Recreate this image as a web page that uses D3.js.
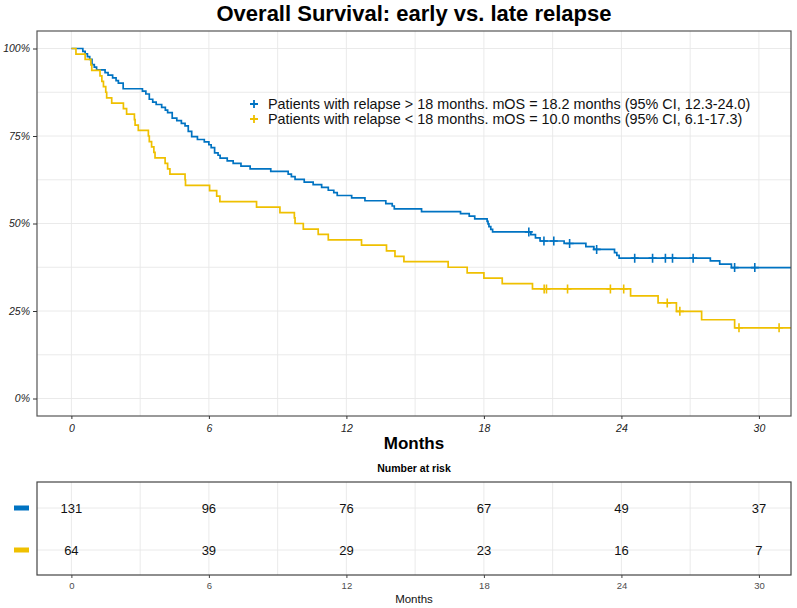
<!DOCTYPE html>
<html>
<head>
<meta charset="utf-8">
<script src="https://cdn.jsdelivr.net/npm/d3@7"></script>
<style>
  body { margin: 0; background: #fff; }
  svg { display: block; font-family: "Liberation Sans", Arial, sans-serif; }
</style>
</head>
<body>
<div id="chart"></div>
<script>
// KM steps: [month, survival]
const lateSteps = [[0,1],[0.5,0.992],[0.6,0.985],[0.7,0.977],[0.8,0.969],[0.9,0.954],[1.0,0.947],[1.1,0.939],
  [1.47,0.931],[1.6,0.924],[1.8,0.916],[1.95,0.908],[2.05,0.901],[2.26,0.885],[3.1,0.878],[3.25,0.870],
  [3.4,0.855],[3.55,0.847],[3.7,0.840],[3.94,0.832],[4.1,0.824],[4.2,0.817],[4.4,0.801],[4.6,0.794],
  [4.8,0.786],[4.96,0.779],[5.1,0.763],[5.25,0.748],[5.5,0.740],[5.8,0.733],[6.0,0.725],[6.1,0.717],
  [6.25,0.702],[6.4,0.695],[6.49,0.687],[6.8,0.679],[7.06,0.672],[7.4,0.664],[7.8,0.656],[8.7,0.649],
  [9.46,0.641],[9.6,0.634],[9.76,0.626],[10.16,0.618],[10.55,0.611],[10.92,0.603],[11.21,0.595],
  [11.45,0.588],[11.6,0.580],[12.23,0.573],[12.81,0.565],[13.72,0.557],[14.0,0.550],[14.09,0.542],
  [15.28,0.534],[16.98,0.528],[17.36,0.521],[17.6,0.513],[18.14,0.506],[18.18,0.499],[18.22,0.491],
  [18.3,0.483],[18.38,0.476],[20.05,0.468],[20.25,0.459],[20.45,0.450],[21.5,0.443],[22.45,0.434],
  [22.8,0.426],[23.7,0.417],[23.8,0.409],[23.9,0.401],[27.88,0.393],[28.29,0.384],[28.8,0.374]];
const lateCensor = [19.96, 20.62, 21.05, 21.74, 22.92, 24.58, 25.36, 25.92, 26.23, 27.13, 28.94, 29.82];

const earlySteps = [[0,1],[0.2,0.984],[0.6,0.969],[0.85,0.953],[0.89,0.9375],[1.25,0.922],[1.33,0.906],
  [1.4,0.891],[1.5,0.875],[1.54,0.859],[1.76,0.844],[2.27,0.828],[2.41,0.8125],[2.75,0.797],[2.78,0.781],
  [2.92,0.766],[3.36,0.75],[3.4,0.734],[3.5,0.719],[3.6,0.703],[3.65,0.6875],[4.09,0.672],[4.2,0.656],
  [4.3,0.641],[4.96,0.625],[4.98,0.609],[6.03,0.594],[6.34,0.578],[6.48,0.5625],[8.08,0.547],[9.1,0.531],
  [9.73,0.516],[9.76,0.5],[10.12,0.484],[10.77,0.469],[11.21,0.453],[12.66,0.438],[13.75,0.422],
  [14.12,0.406],[14.51,0.391],[16.44,0.375],[17.27,0.359],[18.0,0.344],[18.8,0.328],[20.12,0.313],
  [24.4,0.293],[25.6,0.273],[26.4,0.249],[27.5,0.225],[28.94,0.202]];
const earlyCensor = [20.63, 20.73, 21.65, 23.52, 24.1, 26.0, 26.55, 29.13, 30.88];

const followUpEnd = 32;

const groupLabels = [
  "Patients with relapse > 18 months. mOS = 18.2 months (95% CI, 12.3-24.0)",
  "Patients with relapse < 18 months. mOS = 10.0 months (95% CI, 6.1-17.3)"
];
const groupColors = ["#0073C2", "#EFC000"];

const monthTicks = [0, 6, 12, 18, 24, 30];
const survTicks = [0, 0.25, 0.5, 0.75, 1];
const riskLate = [131, 96, 76, 67, 49, 37];
const riskEarly = [64, 39, 29, 23, 16, 7];

const W = 797, H = 608;
const panel = { left: 37, right: 791, top: 31, bottom: 416 };
const table = { top: 482, bottom: 575 };

const svg = d3.select("#chart").append("svg")
  .attr("width", W).attr("height", H);

const x = d3.scaleLinear().domain([-1.5, 31.4]).range([panel.left, panel.right]);
const y = d3.scaleLinear().domain([-0.05, 1.05]).range([panel.bottom, panel.top]);

// title
svg.append("text")
  .attr("x", 414).attr("y", 21)
  .attr("text-anchor", "middle")
  .attr("font-size", 22).attr("font-weight", "bold")
  .text("Overall Survival: early vs. late relapse");

// grid
const grid = svg.append("g");
const minorX = d3.range(-1, 32).filter(d => d % 3 === 0 && d % 6 !== 0);
const minorY = [0.125, 0.375, 0.625, 0.875];
grid.selectAll(".gx").data(monthTicks.concat(minorX)).enter().append("line")
  .attr("x1", d => x(d)).attr("x2", d => x(d))
  .attr("y1", panel.top).attr("y2", panel.bottom)
  .attr("stroke", "#e8e8e8").attr("stroke-width", 0.9);
grid.selectAll(".gy").data(survTicks.concat(minorY)).enter().append("line")
  .attr("x1", panel.left).attr("x2", panel.right)
  .attr("y1", d => y(d)).attr("y2", d => y(d))
  .attr("stroke", "#e8e8e8").attr("stroke-width", 0.9);

svg.append("clipPath").attr("id", "clip")
  .append("rect")
  .attr("x", panel.left).attr("y", panel.top)
  .attr("width", panel.right - panel.left).attr("height", panel.bottom - panel.top);

const line = d3.line()
  .x(d => x(d[0])).y(d => y(d[1]))
  .curve(d3.curveStepAfter);

function survAt(steps, t) {
  const i = d3.bisector(d => d[0]).right(steps, t) - 1;
  return steps[Math.max(0, i)][1];
}

const curves = svg.append("g").attr("clip-path", "url(#clip)");
[[lateSteps, lateCensor], [earlySteps, earlyCensor]].forEach(([steps, cens], i) => {
  const pts = steps.concat([[followUpEnd, steps[steps.length - 1][1]]]);
  curves.append("path")
    .datum(pts)
    .attr("fill", "none")
    .attr("stroke", groupColors[i])
    .attr("stroke-width", 1.7)
    .attr("d", line);
  curves.selectAll(".c" + i).data(cens).enter().append("path")
    .attr("d", d => {
      const cx = x(d), cy = y(survAt(steps, d));
      return `M${cx - 4},${cy}H${cx + 4}M${cx},${cy - 4.5}V${cy + 4.5}`;
    })
    .attr("stroke", groupColors[i]).attr("stroke-width", 1.6);
});

// panel frame
svg.append("rect")
  .attr("x", panel.left).attr("y", panel.top)
  .attr("width", panel.right - panel.left).attr("height", panel.bottom - panel.top)
  .attr("fill", "none").attr("stroke", "#555").attr("stroke-width", 1.2);

// axes
const yAxis = svg.append("g")
  .attr("transform", `translate(${panel.left},0)`)
  .call(d3.axisLeft(y).tickValues(survTicks).tickFormat(d3.format(".0%")).tickSize(4).tickPadding(3));
const xAxis = svg.append("g")
  .attr("transform", `translate(0,${panel.bottom})`)
  .call(d3.axisBottom(x).tickValues(monthTicks).tickSize(3).tickPadding(6));
[yAxis, xAxis].forEach(a => {
  a.select(".domain").remove();
  a.selectAll(".tick line").attr("stroke", "#333");
  a.selectAll(".tick text")
    .attr("font-family", "Liberation Sans, Arial, sans-serif")
    .attr("font-size", 10.5).attr("font-style", "italic").attr("fill", "#222");
});

svg.append("text")
  .attr("x", 414).attr("y", 449)
  .attr("text-anchor", "middle")
  .attr("font-size", 17).attr("font-weight", "bold")
  .text("Months");

// legend
const legend = svg.append("g");
groupLabels.forEach((lab, i) => {
  const ly = 104 + i * 15;
  legend.append("path")
    .attr("d", `M250,${ly}H258M254,${ly - 4}V${ly + 4}`)
    .attr("stroke", groupColors[i]).attr("stroke-width", 1.8);
  legend.append("text")
    .attr("x", 268).attr("y", ly + 5)
    .attr("font-size", 14.4).attr("fill", "#111")
    .text(lab);
});

// risk table
svg.append("text")
  .attr("x", 414).attr("y", 472)
  .attr("text-anchor", "middle")
  .attr("font-size", 10.5).attr("font-weight", "bold")
  .text("Number at risk");

const rowY = d3.scalePoint().domain([0, 1]).range([508, 550]);
const tgrid = svg.append("g");
tgrid.selectAll("line.v").data(monthTicks.concat(minorX)).enter().append("line")
  .attr("x1", d => x(d)).attr("x2", d => x(d))
  .attr("y1", table.top).attr("y2", table.bottom)
  .attr("stroke", "#e8e8e8").attr("stroke-width", 0.9);
tgrid.selectAll("line.h").data([0, 1]).enter().append("line")
  .attr("x1", panel.left).attr("x2", panel.right)
  .attr("y1", d => rowY(d)).attr("y2", d => rowY(d))
  .attr("stroke", "#e8e8e8").attr("stroke-width", 0.9);

[riskLate, riskEarly].forEach((row, i) => {
  svg.selectAll(".r" + i).data(row).enter().append("text")
    .attr("x", (d, j) => x(monthTicks[j]))
    .attr("y", rowY(i) + 4.5)
    .attr("text-anchor", "middle")
    .attr("font-size", 13).attr("fill", "#111")
    .text(d => d);
  svg.append("rect")
    .attr("x", 14).attr("y", rowY(i) - 2.5)
    .attr("width", 15).attr("height", 5)
    .attr("fill", groupColors[i]);
});

svg.append("rect")
  .attr("x", panel.left).attr("y", table.top)
  .attr("width", panel.right - panel.left).attr("height", table.bottom - table.top)
  .attr("fill", "none").attr("stroke", "#444").attr("stroke-width", 1.2);

const tAxis = svg.append("g")
  .attr("transform", `translate(0,${table.bottom})`)
  .call(d3.axisBottom(x).tickValues(monthTicks).tickSize(3).tickPadding(4));
tAxis.select(".domain").remove();
tAxis.selectAll(".tick line").attr("stroke", "#444");
tAxis.selectAll(".tick text")
  .attr("font-family", "Liberation Sans, Arial, sans-serif")
  .attr("font-size", 9.5).attr("fill", "#4d4d4d");

svg.append("text")
  .attr("x", 414).attr("y", 603)
  .attr("text-anchor", "middle")
  .attr("font-size", 11.5).attr("fill", "#111")
  .text("Months");
</script>
</body>
</html>
